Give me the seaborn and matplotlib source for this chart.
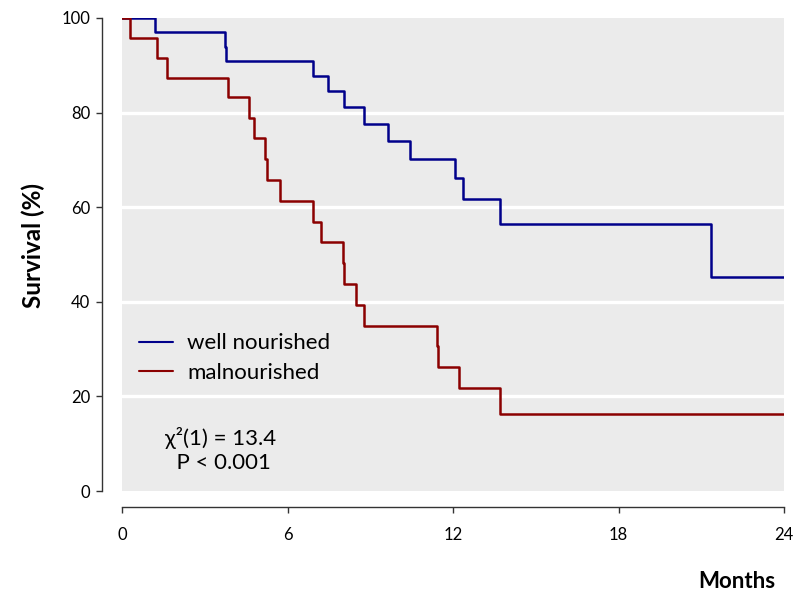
import matplotlib
matplotlib.use("Agg")
import matplotlib.pyplot as plt
import seaborn as sns
import pandas as pd

# Data
well_months = [0, 1.20, 3.74, 3.78, 6.91, 7.46, 8.05, 8.76, 9.65, 10.45, 12.09, 12.38, 13.70, 21.34, 24]
well_surv = [100, 97.0, 93.8, 90.9, 87.7, 84.6, 81.2, 77.6, 74.0, 70.2, 66.1, 61.7, 56.5, 45.2, 45.2]

mal_months = [0, 0.28, 1.27, 1.62, 3.84, 4.62, 4.80, 5.20, 5.25, 5.71, 6.91, 7.20, 8.03, 8.06,
              8.50, 8.76, 11.41, 11.44, 12.21, 13.69, 24]
mal_surv = [100, 95.7, 91.6, 87.4, 83.2, 78.9, 74.7, 70.2, 65.8, 61.3, 56.9, 52.6, 48.1, 43.8,
            39.4, 34.9, 30.7, 26.3, 21.7, 16.3, 16.3]

groups = ["well nourished", "malnourished"]
x_ticks = [0, 6, 12, 18, 24]
y_ticks = [0, 20, 40, 60, 80, 100]
stats_text = "\u03c7\u00b2(1) = 13.4\n  P < 0.001"

df = pd.concat([
    pd.DataFrame({"Months": well_months, "Survival": well_surv, "group": groups[0]}),
    pd.DataFrame({"Months": mal_months, "Survival": mal_surv, "group": groups[1]}),
], ignore_index=True)

sns.set_theme(style="white")
plt.rcParams["font.family"] = ["Lato", "DejaVu Sans"]
plt.rcParams["text.color"] = "black"
plt.rcParams["axes.labelcolor"] = "black"

fig = plt.figure(figsize=(7.99, 5.91), dpi=100)
ax = fig.add_axes([122 / 799, 1 - 491 / 591, (784 - 122) / 799, (491 - 18) / 591])
ax.set_facecolor("#EBEBEB")

for y in [20, 40, 60, 80]:
    ax.axhline(y, color="white", lw=2.4, zorder=1)

sns.lineplot(data=df, x="Months", y="Survival", hue="group", hue_order=groups,
             palette=["#00008B", "#8B0000"], drawstyle="steps-post",
             estimator=None, sort=False, lw=1.8, ax=ax, zorder=3)

ax.set_xlim(0, 24)
ax.set_ylim(0, 100)
ax.set_xticks(x_ticks)
ax.set_yticks(y_ticks)
ax.tick_params(axis="both", which="major", labelsize=12, length=4.3, width=1,
               color="#333333", labelcolor="black", left=True, bottom=True)
ax.tick_params(axis="x", pad=10)
ax.tick_params(axis="y", pad=4)

for s in ["top", "right"]:
    ax.spines[s].set_visible(False)
ax.spines["left"].set_position(("outward", 14.4))
ax.spines["bottom"].set_position(("outward", 11.5))
for s in ["left", "bottom"]:
    ax.spines[s].set_color("#333333")
    ax.spines[s].set_linewidth(1.0)

ax.set_xlabel("")
ax.set_ylabel("Survival (%)", fontsize=17.5, fontweight="bold", color="black")
ax.yaxis.set_label_coords(-0.116, 0.518)
fig.text(775 / 799, 1 - 581 / 591, "Months", fontsize=16, fontweight="bold",
         ha="right", va="center", color="black")

leg = ax.legend(loc="center left", bbox_to_anchor=(0.0257, 0.281), frameon=False,
                fontsize=16, handlelength=1.53, handletextpad=0.63, labelspacing=0.42,
                borderpad=0, borderaxespad=0)
for line in leg.get_lines():
    line.set_linewidth(1.5)
for t in leg.get_texts():
    t.set_color("black")

ax.text(0.065, 0.0867, stats_text, transform=ax.transAxes, fontsize=16,
        va="center", ha="left", linespacing=1.2, color="black")

fig.savefig("out.png", dpi=100)
